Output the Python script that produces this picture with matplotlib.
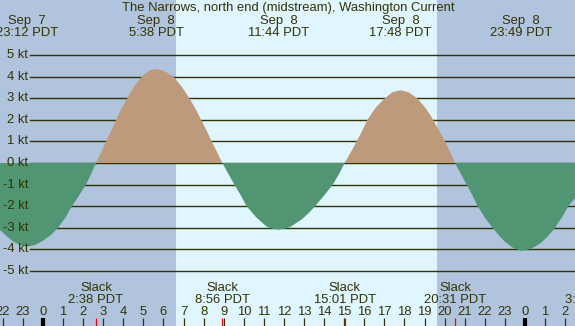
import matplotlib
matplotlib.use("Agg")
import matplotlib.pyplot as plt

# hours relative to Sep 8 00:00 PDT, speed in knots
hours = [-2.14, -1.8, -1.5, -1.15, -0.8, -0.4, 0.0, 0.4, 0.75, 1.1, 1.44, 1.8, 2.14, 2.4, 2.633,
         2.9, 3.14, 3.4, 3.64, 3.9, 4.2, 4.55, 4.92, 5.2, 5.42, 5.633, 5.85, 6.1, 6.49,
         6.9, 7.29, 7.6, 7.87, 8.15, 8.40, 8.67, 8.933,
         9.23, 9.53, 9.85, 10.14, 10.6, 11.14, 11.45, 11.733, 12.0, 12.3, 12.9, 13.25,
         13.55, 14.0, 14.43, 14.75, 15.017,
         15.33, 15.62, 15.9, 16.15, 16.6, 17.03, 17.4, 17.8, 18.2, 18.63, 19.0, 19.27,
         19.42, 19.72, 20.02, 20.27, 20.517,
         20.8, 21.1, 21.38, 21.65, 22.05, 22.43, 22.7, 23.0, 23.4, 23.817, 24.3, 24.8,
         25.15, 25.5, 25.85, 26.16, 26.49]
speed = [-3.1, -3.4, -3.63, -3.8, -3.87, -3.8, -3.6, -3.33, -3.0, -2.55, -2.0, -1.5, -1.0, -0.5, 0.0,
         0.5, 1.0, 1.5, 2.0, 2.5, 3.0, 3.55, 4.0, 4.22, 4.32, 4.35, 4.32, 4.23, 4.0,
         3.55, 3.0, 2.5, 2.0, 1.5, 1.0, 0.5, 0.0,
         -0.5, -1.0, -1.5, -2.0, -2.5, -2.95, -3.05, -3.08, -3.05, -2.97, -2.6, -2.3,
         -2.0, -1.5, -1.0, -0.5, 0.0,
         0.5, 1.0, 1.5, 2.0, 2.6, 3.0, 3.28, 3.37, 3.28, 3.0, 2.6, 2.25,
         2.0, 1.5, 1.0, 0.5, 0.0,
         -0.5, -1.0, -1.5, -2.0, -2.6, -3.05, -3.35, -3.65, -3.93, -4.07, -3.98, -3.7,
         -3.38, -3.0, -2.5, -2.0, -1.63]

peak_hours = [-0.8, 5.633, 11.733, 17.8, 23.817]
peak_labels = ["Sep  7\n23:12 PDT", "Sep  8\n5:38 PDT", "Sep  8\n11:44 PDT",
               "Sep  8\n17:48 PDT", "Sep  8\n23:49 PDT"]
slack_hours = [2.633, 8.933, 15.017, 20.517, 27.35]
slack_labels = ["Slack\n2:38 PDT", "Slack\n8:56 PDT", "Slack\n15:01 PDT",
                "Slack\n20:31 PDT", "Slack\n3:21 PDT"]
kt_levels = [5, 4, 3, 2, 1, 0, -1, -2, -3, -4, -5]
sunrise, sunset = 6.62, 19.62
title = "The Narrows, north end (midstream), Washington Current"

night = "#b0c4de"
day = "#dff6ff"
flood = "#bc9a7a"
ebb = "#509673"
ink = "#333300"
font = "Liberation Sans"
fs = 9.4

fig = plt.figure(figsize=(5.75, 3.26), dpi=100)
ax = fig.add_axes([0, 0, 1, 1])
ax.set_xlim(-2.14, 26.49)
ax.set_ylim(-7.55, 7.55)
ax.axis("off")
ax.add_patch(plt.Rectangle((0, 0), 1, 1, transform=ax.transAxes,
                           color=night, zorder=-1))
ax.axvspan(sunrise, sunset, color=day, zorder=0, lw=0)

for k in kt_levels:
    ax.plot([-0.65, 26.49], [k, k], color=ink, lw=1.0, zorder=1)
    ax.text(-0.75, k, f"{k} kt", ha="right", va="center", color=ink,
            fontsize=fs, family=font)

ax.fill_between(hours, speed, 0, where=[s >= 0 for s in speed],
                color=flood, lw=0, zorder=2, interpolate=True)
ax.fill_between(hours, speed, 0, where=[s <= 0 for s in speed],
                color=ebb, lw=0, zorder=2, interpolate=True)

ax.text(12.2, 7.2, title, ha="center", va="center", color=ink,
        fontsize=fs, family=font)
for h, lab in zip(peak_hours, peak_labels):
    ax.text(h, 6.28, lab, ha="center", va="center", color=ink,
            fontsize=fs, family=font, linespacing=1.0)
for h, lab in zip(slack_hours, slack_labels):
    ax.text(h, -6.06, lab, ha="center", va="center", color=ink,
            fontsize=fs, family=font, linespacing=1.0)

for h in range(-2, 28):
    ax.text(h, -6.9, str(h % 24), ha="center", va="center", color=ink,
            fontsize=fs, family=font)
    lw = 3.0 if h % 24 == 0 else 0.9
    ax.plot([h, h], [-7.18, -7.55], color="black" if h % 24 == 0 else ink,
            lw=lw, zorder=3, solid_capstyle="butt")
for h in slack_hours:
    ax.plot([h, h], [-7.18, -7.55], color="red", lw=0.9, zorder=3,
            solid_capstyle="butt")

fig.savefig("out.png", dpi=100)
